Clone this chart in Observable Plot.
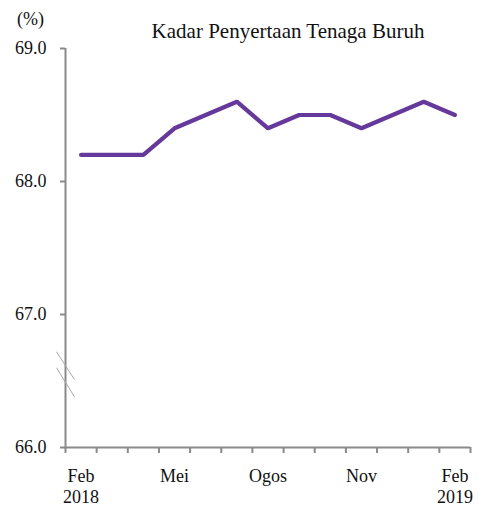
<!DOCTYPE html>
<html>
<head>
<meta charset="utf-8">
<script src="https://cdn.jsdelivr.net/npm/d3@7"></script>
<script src="https://cdn.jsdelivr.net/npm/@observablehq/plot@0.6"></script>
<style>
  html, body { margin: 0; padding: 0; background: #fff; }
</style>
</head>
<body>
<div id="chart"></div>
<script>
const months = ["Feb 2018","Mac","Apr","Mei","Jun","Jul","Ogos","Sep","Okt","Nov","Dis","Jan","Feb 2019"];
const values = [68.2, 68.2, 68.2, 68.4, 68.5, 68.6, 68.4, 68.5, 68.5, 68.4, 68.5, 68.6, 68.5];
const labelIndex = [0, 3, 6, 9, 12];
const labelText = ["Feb\n2018", "Mei", "Ogos", "Nov", "Feb\n2019"];
const yTicks = [66, 67, 68, 69];
const title = "Kadar Penyertaan Tenaga Buruh";
const unit = "(%)";

const data = months.map((m, i) => ({month: m, i, value: values[i]}));
const boundaries = d3.range(-0.5, months.length, 1);
const breakMarks = [
  {x1: -0.79, x2: -0.21, y1: 66.72, y2: 66.51},
  {x1: -0.79, x2: -0.21, y1: 66.60, y2: 66.38}
];

const axisColor = "#8a8a8a";
const lineColor = "#65399b";
const font = "'Liberation Serif', 'Times New Roman', serif";

const chart = Plot.plot({
  width: 478,
  height: 509,
  marginLeft: 65,
  marginRight: 8,
  marginTop: 48,
  marginBottom: 62,
  style: {fontFamily: font, fontSize: "18px", color: "#111", background: "#fff"},
  x: {domain: [-0.5, months.length - 0.5], axis: null},
  y: {domain: [66, 69], axis: null},
  marks: [
    Plot.ruleX([-0.5], {y1: 66, y2: 69, stroke: axisColor, strokeWidth: 2}),
    Plot.ruleY([66], {x1: -0.5, x2: months.length - 0.5, stroke: axisColor, strokeWidth: 2}),
    Plot.axisY({ticks: yTicks, tickSize: 5, tickPadding: 14, tickFormat: d3.format(".1f"), stroke: axisColor, strokeWidth: 2, fill: "#111", label: null, fontSize: 18}),
    Plot.axisX({ticks: boundaries, tickSize: 6, tickFormat: () => "", stroke: axisColor, strokeWidth: 2, label: null}),
    Plot.axisX({ticks: labelIndex, tickSize: 0, tickPadding: 19, tickFormat: (d) => labelText[labelIndex.indexOf(d)], fill: "#111", label: null, fontSize: 18, lineHeight: 1.2}),
    Plot.link(breakMarks, {x1: "x1", x2: "x2", y1: "y1", y2: "y2", stroke: "#aaa", strokeWidth: 1}),
    Plot.line(data, {x: "i", y: "value", stroke: lineColor, strokeWidth: 4.2, strokeLinejoin: "miter", strokeLinecap: "round"}),
    Plot.text([title], {frameAnchor: "top", dx: 20, dy: -17, lineAnchor: "middle", fontSize: 21, fill: "#111", style: "word-spacing: 1px"}),
    Plot.text([unit], {frameAnchor: "top-left", dx: -35, dy: -29, lineAnchor: "middle", textAnchor: "middle", fontSize: 18, fill: "#111"})
  ]
});
document.getElementById("chart").appendChild(chart);
</script>
</body>
</html>
